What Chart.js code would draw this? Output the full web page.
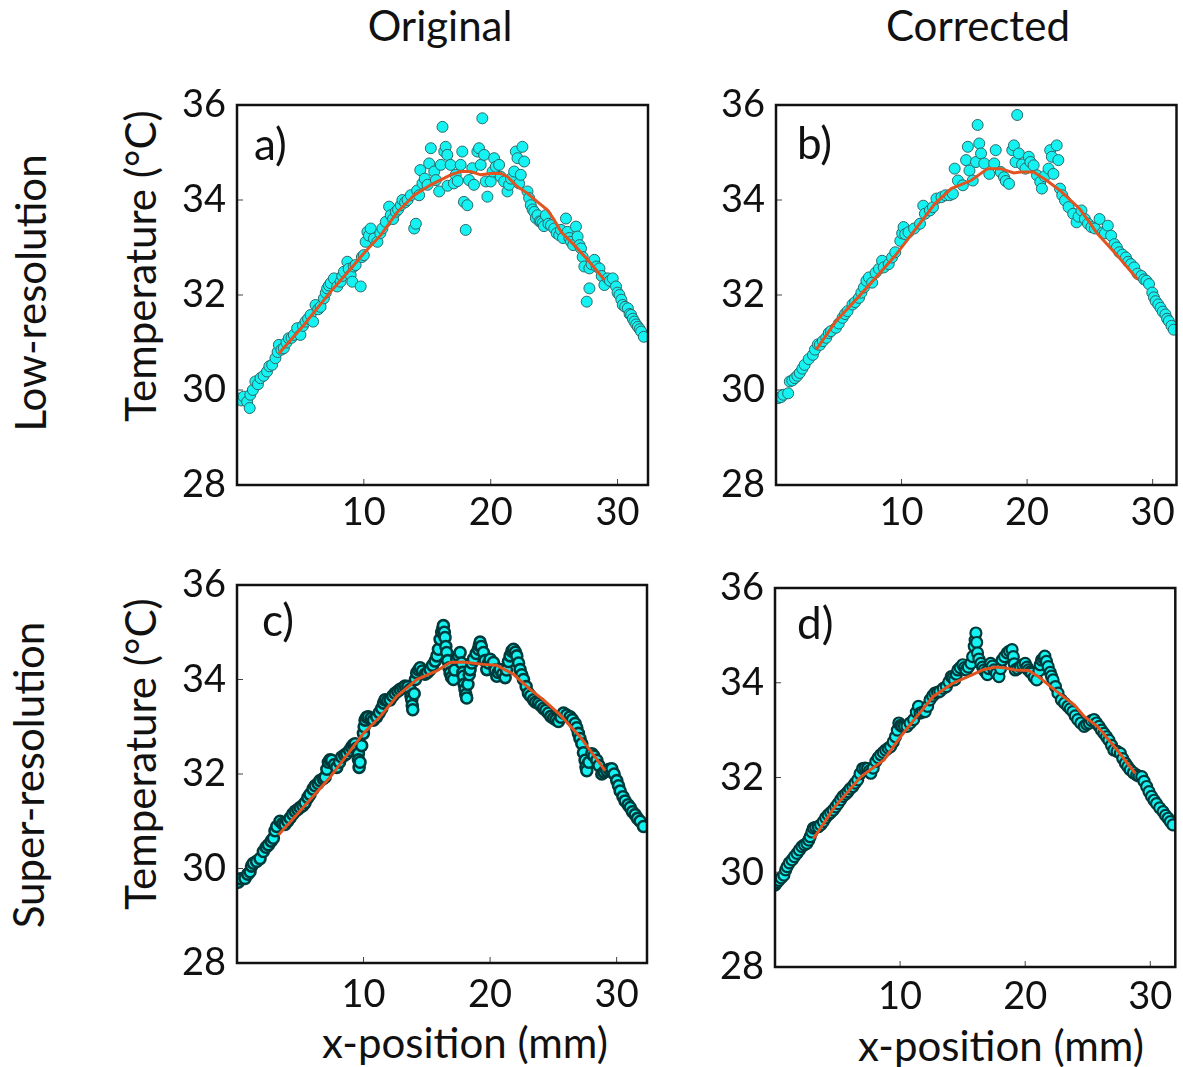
<!DOCTYPE html>
<html>
<head>
<meta charset="utf-8">
<title>Temperature profiles</title>
<script src="https://cdn.jsdelivr.net/npm/chart.js@4.4.1/dist/chart.umd.min.js"></script>
<style>
  html, body { margin: 0; padding: 0; background: #fff; overflow: hidden; }
  body { width: 1183px; height: 1067px; position: relative; font-family: Lato, sans-serif; color: #111; }
  canvas { position: absolute; }
  .label { position: absolute; font-size: 42px; white-space: nowrap; transform: translate(-50%, -50%); }
  .vertical { transform: translate(-50%, -50%) rotate(-90deg); }
</style>
</head>
<body>
<div class="label" style="left:440px; top:25px;">Original</div>
<div class="label" style="left:978px; top:25px;">Corrected</div>
<div class="label vertical" style="left:30px; top:293px;">Low-resolution</div>
<div class="label vertical" style="left:28px; top:775px;">Super-resolution</div>
<div class="label vertical" style="left:140px; top:266px;">Temperature (°C)</div>
<div class="label vertical" style="left:140px; top:754px;">Temperature (°C)</div>
<div class="label" style="left:465px; top:1042px;">x-position (mm)</div>
<div class="label" style="left:1001px; top:1045px;">x-position (mm)</div>

<canvas id="chartA" width="500" height="480" style="left:160px; top:60px;"></canvas>
<canvas id="chartB" width="483" height="480" style="left:700px; top:60px;"></canvas>
<canvas id="chartC" width="500" height="480" style="left:160px; top:540px;"></canvas>
<canvas id="chartD" width="483" height="480" style="left:700px; top:540px;"></canvas>

<script>
// axis ticks
const xTickValues = [10, 20, 30];
const yTickValues = [28, 30, 32, 34, 36];
const innerYTicks = [30, 32, 34];

// a) low-resolution, original
const origLowX = [0.13, 0.35, 0.53, 0.8, 1.0, 1.05, 1.25, 1.45, 1.65, 1.85, 2.1, 2.37, 2.55, 2.77, 3.03, 3.2, 3.3, 3.5, 3.69, 3.9,
  4.08, 4.3, 4.48, 4.74, 5.0, 5.2, 5.4, 5.6, 5.8, 6.0, 6.19, 6.4, 6.59, 6.85, 7.0, 7.11, 7.25, 7.38, 7.64, 7.9,
  8.17, 8.3, 8.43, 8.7, 8.8, 8.96, 9.09, 9.2, 9.35, 9.75, 9.85, 10.0, 10.14, 10.28, 10.4, 10.54, 10.8, 11.07, 11.3, 11.46,
  11.73, 11.99, 12.12, 12.3, 12.52, 12.7, 12.91, 13.04, 13.25, 13.44, 13.7, 13.97, 14.1, 14.2, 14.36, 14.45, 14.62, 14.8, 15.02, 15.15,
  15.28, 15.55, 15.68, 15.94, 16.07, 16.2, 16.34, 16.45, 16.58, 16.6, 16.84, 17.1, 17.24, 17.4, 17.63, 17.76, 17.89, 18.03, 18.16, 18.29,
  18.55, 18.68, 18.95, 19.08, 19.21, 19.34, 19.48, 19.61, 19.74, 20.0, 20.15, 20.27, 20.4, 20.66, 20.79, 21.06, 21.32, 21.45, 21.6, 21.85,
  21.98, 22.11, 22.24, 22.37, 22.5, 22.64, 22.9, 23.03, 23.16, 23.3, 23.43, 23.56, 23.69, 23.85, 23.96, 24.09, 24.2, 24.35, 24.55, 24.75,
  25.01, 25.2, 25.4, 25.54, 25.7, 25.93, 26.06, 26.2, 26.33, 26.5, 26.72, 26.85, 27.0, 27.12, 27.25, 27.38, 27.57, 27.78, 27.78, 27.95,
  28.17, 28.35, 28.57, 28.75, 28.96, 29.22, 29.4, 29.62, 29.88, 30.0, 30.15, 30.3, 30.41, 30.6, 30.81, 30.95, 31.07, 31.2, 31.33, 31.47,
  31.6, 31.75, 31.86, 32.07];
const origLowT = [29.82, 29.78, 29.86, 29.75, 29.62, 29.9, 30.0, 30.18, 30.12, 30.25, 30.3, 30.39, 30.5, 30.53, 30.67, 30.8, 30.95, 30.85, 30.88, 31.0,
  31.09, 31.1, 31.16, 31.3, 31.16, 31.35, 31.44, 31.5, 31.58, 31.44, 31.79, 31.7, 31.75, 31.93, 32.05, 32.14, 32.2, 32.25, 32.35, 32.18,
  32.28, 32.4, 32.49, 32.7, 32.55, 32.42, 32.28, 32.6, 32.63, 32.18, 32.8, 32.84, 33.12, 33.33, 33.25, 33.4, 33.19, 33.12, 33.3, 33.4,
  33.54, 33.86, 33.68, 33.6, 33.75, 33.8, 33.89, 34.0, 33.95, 34.0, 34.1, 33.4, 33.5, 34.2, 34.1, 34.63, 34.35, 34.45, 34.32, 34.77,
  35.09, 34.6, 34.42, 34.18, 34.74, 35.54, 35.02, 35.12, 34.95, 34.3, 34.74, 34.35, 34.53, 34.4, 34.74, 35.02, 33.96, 33.37, 33.89, 34.42,
  34.67, 34.32, 35.02, 35.09, 34.74, 35.72, 34.95, 34.39, 34.07, 34.39, 34.6, 34.88, 34.7, 34.74, 34.49, 34.39, 34.18, 34.32, 34.45, 34.6,
  35.02, 34.88, 34.35, 34.53, 35.12, 34.81, 34.18, 34.04, 33.89, 33.8, 33.75, 33.62, 33.68, 33.55, 33.54, 33.51, 33.45, 33.68, 33.5, 33.47,
  33.4, 33.3, 33.26, 33.37, 33.2, 33.61, 33.33, 33.2, 33.12, 33.05, 33.44, 33.23, 33.05, 32.98, 32.8, 32.6, 31.86, 32.14, 32.56, 32.65,
  32.74, 32.6, 32.56, 32.4, 32.21, 32.35, 32.3, 32.35, 32.18, 32.05, 32.0, 31.9, 31.79, 31.75, 31.72, 31.6, 31.58, 31.5, 31.44, 31.38,
  31.33, 31.28, 31.23, 31.12];
const origLowFitX = [3.3, 5.27, 7.38, 9.22, 10.0, 11.33, 12.65, 13.97, 15.28, 16.34, 16.84, 17.63, 18.42, 19.21, 20.0, 20.79, 21.32, 22.11, 22.9, 23.69,
  24.48, 25.01, 25.54, 26.59, 27.64, 28.43, 28.96];
const origLowFitT = [30.77, 31.37, 32.07, 32.63, 32.88, 33.26, 33.75, 34.1, 34.32, 34.46, 34.53, 34.6, 34.6, 34.53, 34.56, 34.56, 34.49, 34.28, 34.14, 33.96,
  33.79, 33.58, 33.33, 33.05, 32.74, 32.49, 32.32];

// b) low-resolution, corrected
const corrLowX = [0.18, 0.4, 0.58, 0.97, 1.1, 1.3, 1.5, 1.7, 1.89, 2.1, 2.28, 2.6, 2.94, 3.1, 3.33, 3.5, 3.73, 4.0, 4.2, 4.38,
  4.78, 5.0, 5.3, 5.5, 5.7, 6.09, 6.3, 6.61, 6.8, 7.0, 7.2, 7.4, 7.66, 7.93, 8.2, 8.45, 8.58, 8.98, 9.24, 9.5,
  9.9, 10.05, 10.16, 10.29, 10.55, 11.0, 11.47, 11.73, 11.86, 12.26, 12.5, 12.78, 13.18, 13.5, 13.83, 14.09, 14.23, 14.49, 14.88, 15.14,
  15.28, 15.41, 15.67, 15.93, 16.06, 16.19, 16.33, 16.59, 16.99, 17.38, 17.5, 17.9, 18.16, 18.3, 18.56, 18.82, 18.95, 19.08, 19.21, 19.34,
  19.6, 19.87, 20.13, 20.26, 20.52, 20.79, 21.05, 21.18, 21.4, 21.71, 21.84, 21.97, 22.1, 22.36, 22.49, 22.62, 22.8, 23.02, 23.3, 23.67,
  23.94, 24.1, 24.33, 24.6, 24.85, 25.12, 25.4, 25.77, 26.04, 26.2, 26.43, 26.69, 26.96, 27.15, 27.35, 27.6, 27.87, 28.05, 28.27, 28.53,
  28.8, 29.1, 29.32, 29.5, 29.71, 29.97, 30.1, 30.24, 30.45, 30.63, 30.8, 31.02, 31.15, 31.29, 31.5, 31.68];
const corrLowT = [29.83, 29.85, 29.9, 29.93, 30.18, 30.2, 30.25, 30.3, 30.36, 30.45, 30.53, 30.65, 30.74, 30.85, 30.96, 30.95, 31.03, 31.1, 31.2, 31.24,
  31.31, 31.4, 31.52, 31.6, 31.66, 31.8, 31.85, 31.94, 32.05, 32.16, 32.3, 32.37, 32.26, 32.47, 32.55, 32.72, 32.58, 32.65, 32.79, 32.9,
  33.14, 33.3, 33.43, 33.28, 33.32, 33.4, 33.5, 33.88, 33.71, 33.78, 33.85, 34.03, 34.06, 34.1, 34.1, 34.13, 34.66, 34.41, 34.31, 34.84,
  35.12, 34.62, 34.41, 34.8, 35.58, 35.19, 34.98, 34.77, 34.55, 34.77, 35.05, 34.59, 34.48, 34.4, 34.34, 35.05, 35.15, 34.8, 35.79, 34.98,
  34.75, 34.66, 34.91, 34.8, 34.73, 34.52, 34.38, 34.24, 34.5, 34.66, 35.05, 34.91, 34.55, 35.15, 34.84, 34.24, 34.1, 33.99, 33.85, 33.71,
  33.53, 33.65, 33.78, 33.6, 33.5, 33.43, 33.4, 33.6, 33.32, 33.3, 33.46, 33.25, 33.07, 33.0, 32.9, 32.85, 32.79, 32.7, 32.65, 32.58,
  32.45, 32.4, 32.33, 32.3, 32.23, 32.05, 31.95, 31.87, 31.8, 31.73, 31.65, 31.59, 31.5, 31.45, 31.35, 31.27];
const corrLowFitX = [3.2, 4.78, 6.88, 9.5, 10.81, 12.65, 13.96, 15.54, 16.85, 17.9, 18.95, 19.48, 20.52, 21.57, 22.62, 24.2, 24.86, 25.51, 27.09, 28.79];
const corrLowFitT = [30.85, 31.45, 32.05, 32.83, 33.28, 33.92, 34.24, 34.41, 34.66, 34.66, 34.57, 34.59, 34.59, 34.41, 34.2, 33.81, 33.57, 33.32, 32.86, 32.33];

// c) super-resolution, original
const origSuperX = [0.1, 0.3, 0.63, 0.85, 1.03, 1.15, 1.29, 1.55, 1.82, 2.08, 2.3, 2.48, 2.7, 2.87, 3.0, 3.14, 3.4, 3.6, 3.79, 4.0,
  4.19, 4.4, 4.59, 4.8, 4.98, 5.2, 5.38, 5.6, 5.77, 6.0, 6.17, 6.4, 6.56, 6.8, 6.96, 7.1, 7.22, 7.35, 7.48, 7.7,
  7.88, 8.1, 8.27, 8.5, 8.67, 8.9, 9.06, 9.2, 9.33, 9.45, 9.59, 9.6, 9.65, 9.72, 9.85, 9.99, 10.05, 10.12, 10.25, 10.38,
  10.6, 10.78, 11.04, 11.25, 11.44, 11.58, 11.7, 11.9, 12.1, 12.3, 12.49, 12.7, 12.89, 13.1, 13.28, 13.5, 13.68, 13.75, 13.81, 13.85,
  13.89, 14.0, 14.1, 14.2, 14.35, 14.47, 14.65, 14.86, 15.05, 15.26, 15.45, 15.65, 15.8, 15.92, 16.05, 16.18, 16.25, 16.31, 16.38, 16.44,
  16.5, 16.57, 16.65, 16.75, 16.84, 16.95, 17.1, 17.2, 17.36, 17.5, 17.63, 17.75, 17.85, 17.89, 17.95, 18.02, 18.08, 18.15, 18.25, 18.35,
  18.42, 18.55, 18.68, 18.9, 19.08, 19.15, 19.21, 19.3, 19.47, 19.6, 19.74, 19.87, 20.0, 20.26, 20.4, 20.53, 20.65, 20.79, 21.0, 21.19,
  21.3, 21.45, 21.58, 21.72, 21.85, 22.0, 22.11, 22.25, 22.37, 22.5, 22.64, 22.85, 23.03, 23.2, 23.43, 23.6, 23.82, 24.0, 24.22, 24.4,
  24.61, 24.8, 25.01, 25.2, 25.4, 25.6, 25.8, 26.05, 26.32, 26.5, 26.72, 26.85, 26.98, 27.1, 27.25, 27.38, 27.51, 27.58, 27.64, 27.8,
  28.04, 28.2, 28.43, 28.6, 28.83, 29.0, 29.22, 29.42, 29.62, 29.8, 30.01, 30.15, 30.28, 30.5, 30.67, 30.9, 31.07, 31.25, 31.46, 31.65,
  31.86, 32.12];
const origSuperT = [29.71, 29.78, 29.79, 29.88, 29.93, 30.05, 30.11, 30.15, 30.21, 30.36, 30.45, 30.5, 30.58, 30.64, 30.8, 30.89, 31.0, 30.95, 30.93, 31.0,
  31.07, 31.15, 31.21, 31.25, 31.29, 31.33, 31.39, 31.5, 31.57, 31.68, 31.75, 31.8, 31.86, 31.9, 31.93, 32.1, 32.25, 32.3, 32.29, 32.2,
  32.14, 32.25, 32.36, 32.4, 32.43, 32.5, 32.57, 32.62, 32.64, 32.55, 32.43, 32.3, 32.14, 32.25, 32.6, 32.86, 33.0, 33.14, 33.2, 33.21,
  33.18, 33.14, 33.21, 33.3, 33.39, 33.5, 33.57, 33.55, 33.57, 33.65, 33.71, 33.75, 33.79, 33.82, 33.86, 33.85, 33.79, 33.65, 33.57, 33.45,
  33.36, 33.7, 34.0, 34.14, 34.2, 34.25, 34.18, 34.11, 34.15, 34.21, 34.3, 34.39, 34.5, 34.64, 34.85, 35.0, 35.07, 35.14, 35.0, 34.89,
  34.7, 34.57, 34.4, 34.25, 34.14, 34.05, 34.0, 34.2, 34.43, 34.5, 34.57, 34.35, 34.15, 34.07, 33.9, 33.79, 33.68, 33.61, 33.9, 34.1,
  34.21, 34.35, 34.43, 34.55, 34.64, 34.72, 34.79, 34.7, 34.57, 34.4, 34.21, 34.35, 34.43, 34.36, 34.2, 34.07, 34.15, 34.21, 34.12, 34.04,
  34.2, 34.38, 34.5, 34.6, 34.64, 34.58, 34.5, 34.35, 34.21, 34.1, 34.0, 33.85, 33.71, 33.65, 33.57, 33.52, 33.5, 33.45, 33.39, 33.35,
  33.29, 33.22, 33.18, 33.15, 33.11, 33.2, 33.29, 33.25, 33.21, 33.15, 33.07, 32.98, 32.86, 32.75, 32.64, 32.45, 32.29, 32.15, 32.07, 32.25,
  32.43, 32.38, 32.29, 32.18, 32.0, 32.04, 32.07, 32.1, 32.11, 32.0, 31.86, 31.75, 31.64, 31.52, 31.43, 31.35, 31.29, 31.2, 31.14, 31.06,
  31.0, 30.89];
const origSuperFitX = [3.27, 4.72, 7.35, 9.99, 11.3, 12.62, 14.2, 15.78, 16.84, 17.89, 19.47, 20.53, 21.85, 23.16, 24.22, 25.53, 27.11, 29.09];
const origSuperFitT = [30.71, 31.14, 31.93, 32.86, 33.21, 33.64, 34.0, 34.18, 34.36, 34.37, 34.32, 34.3, 34.11, 33.79, 33.57, 33.25, 32.79, 32.07];

// d) super-resolution, corrected
const corrSuperX = [0.0, 0.15, 0.31, 0.5, 0.71, 0.85, 0.97, 1.15, 1.36, 1.55, 1.76, 1.95, 2.15, 2.35, 2.55, 2.7, 2.81, 2.95, 3.07, 3.25,
  3.46, 3.65, 3.86, 4.05, 4.25, 4.45, 4.65, 4.85, 5.04, 5.25, 5.43, 5.65, 5.83, 6.0, 6.22, 6.4, 6.61, 6.8, 7.01, 7.2,
  7.4, 7.55, 7.66, 7.85, 8.06, 8.25, 8.45, 8.65, 8.85, 9.05, 9.24, 9.45, 9.63, 9.78, 9.9, 10.03, 10.16, 10.35, 10.55, 10.8,
  11.08, 11.3, 11.47, 11.6, 11.8, 12.0, 12.2, 12.39, 12.6, 12.78, 13.0, 13.18, 13.45, 13.7, 13.9, 14.09, 14.22, 14.36, 14.5, 14.62,
  14.8, 15.01, 15.15, 15.28, 15.45, 15.67, 15.8, 15.93, 16.0, 16.06, 16.12, 16.19, 16.3, 16.46, 16.6, 16.72, 16.85, 16.98, 17.1, 17.24,
  17.38, 17.51, 17.7, 17.9, 18.03, 18.16, 18.35, 18.56, 18.75, 18.95, 19.05, 19.12, 19.21, 19.4, 19.61, 19.8, 20.0, 20.15, 20.26, 20.4,
  20.52, 20.72, 20.92, 21.1, 21.2, 21.31, 21.45, 21.57, 21.7, 21.84, 22.0, 22.1, 22.23, 22.42, 22.62, 22.89, 23.15, 23.41, 23.6, 23.81,
  24.0, 24.2, 24.45, 24.72, 24.92, 25.12, 25.3, 25.51, 25.7, 25.91, 26.1, 26.3, 26.5, 26.69, 26.9, 27.09, 27.35, 27.61, 27.8, 28.01,
  28.2, 28.4, 28.65, 28.92, 29.1, 29.32, 29.5, 29.71, 29.9, 30.1, 30.3, 30.5, 30.75, 31.02, 31.22, 31.42, 31.6, 31.81];
const corrSuperT = [29.73, 29.78, 29.83, 29.88, 29.94, 30.05, 30.12, 30.2, 30.26, 30.33, 30.4, 30.47, 30.54, 30.58, 30.61, 30.68, 30.75, 30.85, 30.93, 30.95,
  30.96, 31.0, 31.07, 31.15, 31.21, 31.26, 31.31, 31.38, 31.45, 31.53, 31.6, 31.65, 31.7, 31.76, 31.81, 31.88, 31.95, 32.08, 32.19, 32.2,
  32.19, 32.14, 32.09, 32.2, 32.34, 32.42, 32.48, 32.53, 32.58, 32.62, 32.65, 32.75, 32.86, 33.0, 33.15, 33.1, 33.08, 33.08, 33.08, 33.15,
  33.22, 33.38, 33.5, 33.36, 33.38, 33.39, 33.5, 33.64, 33.72, 33.78, 33.8, 33.82, 33.88, 33.92, 34.02, 34.13, 34.1, 34.06, 34.18, 34.27,
  34.32, 34.38, 34.32, 34.27, 34.33, 34.41, 34.55, 34.77, 34.9, 35.05, 34.85, 34.63, 34.5, 34.41, 34.33, 34.27, 34.22, 34.17, 34.3, 34.41,
  34.35, 34.27, 34.2, 34.13, 34.3, 34.48, 34.55, 34.63, 34.67, 34.7, 34.55, 34.4, 34.27, 34.3, 34.34, 34.38, 34.41, 34.33, 34.27, 34.23,
  34.2, 34.12, 34.06, 34.25, 34.38, 34.48, 34.52, 34.56, 34.45, 34.34, 34.22, 34.14, 34.06, 33.92, 33.78, 33.64, 33.57, 33.5, 33.45, 33.39,
  33.3, 33.22, 33.15, 33.08, 33.12, 33.15, 33.2, 33.22, 33.15, 33.08, 33.0, 32.93, 32.86, 32.79, 32.68, 32.58, 32.55, 32.51, 32.4, 32.3,
  32.23, 32.16, 32.1, 32.05, 32.03, 32.02, 31.92, 31.81, 31.7, 31.6, 31.52, 31.45, 31.36, 31.28, 31.2, 31.14, 31.07, 31.0];
const corrSuperFitX = [3.07, 4.78, 6.88, 8.71, 10.03, 11.34, 12.65, 14.22, 15.8, 16.59, 17.64, 18.43, 19.21, 20.26, 21.05, 22.36, 23.94, 24.72, 25.77, 27.35, 28.79];
const corrSuperFitT = [30.71, 31.38, 32.02, 32.37, 32.86, 33.29, 33.71, 33.99, 34.17, 34.27, 34.33, 34.31, 34.27, 34.26, 34.13, 33.85, 33.53, 33.29, 33.08, 32.58, 32.09];

const CYAN = '#14f2f2';
const FIT_RED = '#e2531f';

/**
 * Draws the box frame, the inward tick marks and the panel letter.
 */
const framePlugin = {
    id: 'frame',
    afterDatasetsDraw(chart, args, opts) {
        const { ctx, chartArea: a, scales } = chart;
        ctx.save();
        ctx.strokeStyle = '#444';
        ctx.lineWidth = 1;
        ctx.beginPath();
        innerYTicks.forEach(v => {
            const y = scales.y.getPixelForValue(v);
            ctx.moveTo(a.left, y);
            ctx.lineTo(a.left + 6, y);
        });
        xTickValues.forEach(v => {
            const x = scales.x.getPixelForValue(v);
            if (x < a.right) {
                ctx.moveTo(x, a.bottom);
                ctx.lineTo(x, a.bottom - 6);
            }
        });
        ctx.stroke();
        ctx.strokeStyle = '#111';
        ctx.lineWidth = 2.5;
        ctx.strokeRect(a.left, a.top, a.right - a.left, a.bottom - a.top);
        ctx.fillStyle = '#111';
        ctx.font = '44px Lato';
        ctx.textBaseline = 'middle';
        ctx.fillText(opts.letter, a.left + opts.dx, a.top + opts.dy);
        ctx.restore();
    }
};

function zip(xs, ys) {
    return xs.map((x, i) => ({ x: x, y: ys[i] }));
}

/**
 * Builds one scatter panel with its fitted curve.
 */
function renderPanel(p) {
    const ctx = document.getElementById(p.id).getContext('2d');
    return new Chart(ctx, {
        type: 'scatter',
        data: {
            datasets: [{
                type: 'line',
                data: zip(p.fitX, p.fitT),
                borderColor: FIT_RED,
                borderWidth: 3,
                pointRadius: 0,
                fill: false,
                tension: 0,
                order: 0,
                clip: 0
            }, {
                data: zip(p.xs, p.ts),
                backgroundColor: CYAN,
                borderColor: p.edge,
                borderWidth: p.edgeWidth,
                pointRadius: p.radius,
                order: 1,
                clip: 0
            }]
        },
        options: {
            responsive: false,
            animation: false,
            events: [],
            layout: { padding: { top: p.padTop, right: p.padRight, left: 0, bottom: 0 } },
            plugins: {
                legend: { display: false },
                tooltip: { enabled: false },
                frame: { letter: p.letter, dx: p.dx, dy: p.dy }
            },
            scales: {
                x: {
                    type: 'linear',
                    min: 0,
                    max: p.xMax,
                    grid: { display: false, drawTicks: false },
                    border: { display: false },
                    afterBuildTicks: s => { s.ticks = xTickValues.map(v => ({ value: v })); },
                    afterFit: s => { s.height = p.xHeight; },
                    ticks: { font: { family: 'Lato', size: 38 }, color: '#111', padding: p.xPad, maxRotation: 0, autoSkip: false }
                },
                y: {
                    type: 'linear',
                    min: 28,
                    max: 36,
                    grid: { display: false, drawTicks: false },
                    border: { display: false },
                    afterBuildTicks: s => { s.ticks = yTickValues.map(v => ({ value: v })); },
                    afterFit: s => { s.width = p.yWidth; },
                    ticks: { font: { family: 'Lato', size: 38 }, color: '#111', padding: 11, autoSkip: false }
                }
            }
        },
        plugins: [framePlugin]
    });
}

const panels = [
    { id: 'chartA', xs: origLowX, ts: origLowT, fitX: origLowFitX, fitT: origLowFitT, edge: '#2c6868', edgeWidth: 1, radius: 5.5,
      xMax: 32.4, yWidth: 77, xHeight: 55, padTop: 45, padRight: 12, xPad: 5, letter: 'a)', dx: 17, dy: 41 },
    { id: 'chartB', xs: corrLowX, ts: corrLowT, fitX: corrLowFitX, fitT: corrLowFitT, edge: '#2c6868', edgeWidth: 1, radius: 5.5,
      xMax: 31.9, yWidth: 76, xHeight: 55, padTop: 45, padRight: 2, xPad: 5, letter: 'b)', dx: 21, dy: 40 },
    { id: 'chartC', xs: origSuperX, ts: origSuperT, fitX: origSuperFitX, fitT: origSuperFitT, edge: '#003a3a', edgeWidth: 2.6, radius: 5.5,
      xMax: 32.4, yWidth: 77, xHeight: 57, padTop: 45, padRight: 13, xPad: 9, letter: 'c)', dx: 25, dy: 37 },
    { id: 'chartD', xs: corrSuperX, ts: corrSuperT, fitX: corrSuperFitX, fitT: corrSuperFitT, edge: '#003a3a', edgeWidth: 2.2, radius: 5.5,
      xMax: 32.0, yWidth: 75, xHeight: 53, padTop: 48, padRight: 2, xPad: 7, letter: 'd)', dx: 22, dy: 37 }
];

function drawAll() {
    panels.forEach(renderPanel);
}

if (document.fonts && document.fonts.load) {
    Promise.all([document.fonts.load('38px Lato'), document.fonts.load('42px Lato')])
        .then(drawAll, drawAll);
} else {
    drawAll();
}
</script>
</body>
</html>
